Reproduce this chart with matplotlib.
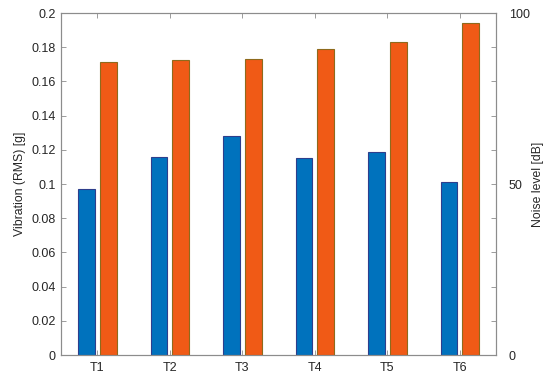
import numpy as np
import matplotlib
matplotlib.use("Agg")
import matplotlib.pyplot as plt
from matplotlib.ticker import FuncFormatter

plt.rcParams['font.family'] = ['Liberation Sans', 'DejaVu Sans']

tests = ["T1", "T2", "T3", "T4", "T5", "T6"]
vibration_rms = [0.097, 0.116, 0.128, 0.115, 0.119, 0.101]   # [g]
noise_level = [85.8, 86.2, 86.7, 89.4, 91.4, 97.0]           # [dB]

x = np.arange(1, len(tests) + 1)
w = 0.23
off = 0.15
frame = '#8c8c8c'
txt = '#262626'

fig = plt.figure(figsize=(5.5, 3.83), dpi=100)
ax = fig.add_axes([0.111, 0.073, 0.791, 0.893])
ax2 = ax.twinx()

ax.bar(x - off, vibration_rms, width=w, color='#0072BD', edgecolor='#2E3E8C', linewidth=0.8)
ax2.bar(x + off, noise_level, width=w, color='#F05A16', edgecolor='#8E6A1C', linewidth=0.8)

ax.set_xlim(0.5, 6.5)
ax.set_ylim(0, 0.2)
ax2.set_ylim(0, 100)
ax.set_xticks(x)
ax.set_xticklabels(tests)
ax.set_yticks(np.arange(0, 0.2001, 0.02))
ax.yaxis.set_major_formatter(FuncFormatter(lambda v, p: "%g" % round(v, 2)))
ax2.set_yticks(np.arange(0, 101, 10))
ax2.yaxis.set_major_formatter(FuncFormatter(lambda v, p: "%g" % v if v % 50 == 0 else ""))

ax.set_ylabel("Vibration (RMS) [g]", fontsize=8.8, color=txt, labelpad=4)
ax2.set_ylabel("Noise level [dB]", fontsize=8.8, color=txt, rotation=90, labelpad=2)

for a in (ax, ax2):
    for s in a.spines.values():
        s.set_color(frame)
        s.set_linewidth(0.8)
    a.tick_params(direction='in', length=3.5, color=frame, labelsize=9, labelcolor=txt, width=0.6)
ax.tick_params(axis='x', top=True, pad=5)
ax.tick_params(axis='y', pad=4)
ax2.tick_params(axis='y', pad=9)

fig.savefig("out.png", dpi=100)
